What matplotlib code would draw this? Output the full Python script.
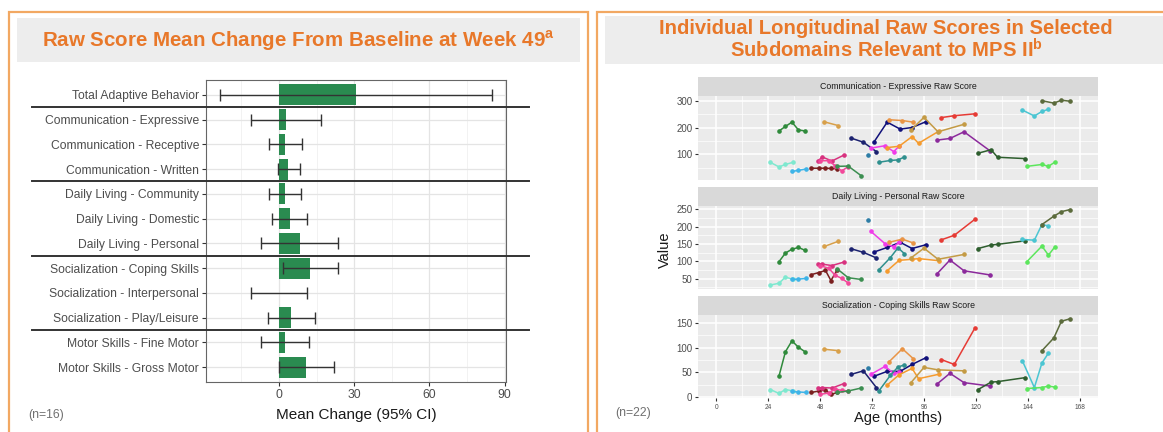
import numpy as np
import matplotlib
matplotlib.use("Agg")
import matplotlib.pyplot as plt
from matplotlib.patches import Rectangle
from matplotlib.ticker import MultipleLocator
from matplotlib.transforms import blended_transform_factory

plt.rcParams['font.family'] = ['Liberation Sans', 'DejaVu Sans']
plt.rcParams['mathtext.fontset'] = 'custom'
plt.rcParams['mathtext.rm'] = 'Liberation Sans'
plt.rcParams['mathtext.bf'] = 'Liberation Sans:bold'

# ---- left panel: raw score mean change at week 49 (n=16)
subdomains = [
    "Total Adaptive Behavior",
    "Communication - Expressive",
    "Communication - Receptive",
    "Communication - Written",
    "Daily Living - Community",
    "Daily Living - Domestic",
    "Daily Living - Personal",
    "Socialization - Coping Skills",
    "Socialization - Interpersonal",
    "Socialization - Play/Leisure",
    "Motor Skills - Fine Motor",
    "Motor Skills - Gross Motor",
]
mean_change = [30.6, 2.7, 2.5, 3.7, 2.4, 4.2, 8.4, 12.4, 0.0, 4.8, 2.4, 10.9]
ci_low = [-23.7, -11.2, -4.0, -0.4, -4.2, -2.8, -7.3, 1.5, -11.2, -4.6, -7.2, 0.0]
ci_high = [85.1, 16.9, 9.1, 8.4, 8.8, 11.2, 23.6, 23.6, 11.3, 14.2, 12.1, 21.8]

# ---- right panel: individual longitudinal raw scores (n=22)
facet_titles = [
    "Communication - Expressive Raw Score",
    "Daily Living - Personal Raw Score",
    "Socialization - Coping Skills Raw Score",
]
age_months = [
    [25, 29, 32, 35.5], [29, 32, 35, 38, 41], [35, 38, 41.5], [44, 47.5, 50.5, 53, 56],
    [50, 56.5], [47, 49, 53.5, 59], [48, 52, 55, 58, 61], [56, 61, 67],
    [62.5, 68, 74], [70], [73, 79, 85, 90.5, 97], [71.5, 78, 82, 84.5],
    [75, 80.5, 84, 87], [80, 86, 91], [79, 84.5, 90.5, 93.5, 102.8], [90, 96, 102.5, 114.5],
    [104, 110, 119.5], [102, 108, 114.5, 126.5], [121, 127, 130, 142.5],
    [141.5, 147, 150.5, 153.5], [143.5, 150.5, 153.5, 156.5], [150.5, 156, 159.5, 163.5],
]
comm_expressive = [
    [70, 53, 62, 70], [187, 204, 220, 191, 187], [36, 40, 45], [48, 48, 48, 47, 46],
    [221, 207], [75, 90, 75, 97], [76, 76, 57, 38, 54], [55, 56, 20],
    [160, 145, 110], [97], [147, 220, 194, 200, 222], [123, 132, 110, 130],
    [70, 77, 79, 90], [229, 226, 220], [125, 130, 166, 141, 186], [191, 238, 184, 212],
    [237, 244, 251], [153, 159, 184, 113], [104, 117, 89, 84],
    [265, 243, 260, 268], [55, 62, 55, 71], [300, 291, 302, 298],
]
dl_personal = [
    [32, 37, 55, 48], [99, 124, 135, 140, 132], [48, 49, 51], [62, 68, 74, 45, 76],
    [143, 158], [92, 92, 88, 98], [88, 80, 60, 51, 38], [78, 53, 48],
    [136, 126, 110], [220], [127, 140, 155, 137, 148], [186, 151, 142, 155],
    [75, 111, 139, 122], [155, 164, 153], [73, 103, 106, 108, 102], [110, 138, 106, 120],
    [162, 175, 221], [64, 104, 73, 61], [137, 147, 149, 159],
    [163, 161, 206, 202], [99, 144, 118, 142], [206, 230, 243, 249],
]
soc_coping = [
    [15, 7, 15, 12], [42, 92, 114, 101, 92], [11, 10, 9], [9, 12, 14, 5, 9],
    [97, 94], [18, 19, 18, 27], [5, 8, 16, 13, 12], [9, 12, 18],
    [46, 53, 19], [58], [42, 52, 52, 66, 80], [46, 62, 48, 50],
    [11, 44, 61, 65], [72, 98, 78], [24, 45, 58, 37, 46], [29, 60, 55, 53],
    [76, 66, 140], [26, 48, 29, 22], [15, 30, 31, 39],
    [73, 19, 69, 89], [17, 19, 22, 20], [94, 120, 154, 159],
]
patient_colors = [
    '#7EE8CF', '#2F8A3B', '#3EB4E8', '#7A1F1F', '#D8A04A', '#D8327F', '#F2489A', '#3B8E50',
    '#1C2270', '#2D7DA6', '#10107A', '#F03CE8', '#2F908E', '#E99445', '#F59B2E', '#C49B45',
    '#E63B35', '#8C2A9C', '#2E5E2E', '#4BC5D2', '#5CE65C', '#5B6B3C',
]

ORANGE = '#E8782A'
FRAME = '#F2A862'
BAR_GREEN = '#2A8B50'

W, H = 1163, 432
fig = plt.figure(figsize=(W / 100, H / 100), dpi=100)


def box(x0, y0, x1, y1):
    # pixel box, origin top-left -> figure fraction [l, b, w, h]
    return [x0 / W, 1 - y1 / H, (x1 - x0) / W, (y1 - y0) / H]


def add_rect(x0, y0, x1, y1, **kw):
    l, b, w, h = box(x0, y0, x1, y1)
    fig.patches.append(Rectangle((l, b), w, h, transform=fig.transFigure, **kw))


def ftext(x, y, s, **kw):
    return fig.text(x / W, 1 - y / H, s, **kw)


# frames and title bands
add_rect(9, 12, 588, 470, fill=False, ec=FRAME, lw=1.6)
add_rect(597, 12, 1180, 470, fill=False, ec=FRAME, lw=1.6)
add_rect(17, 18, 580, 62, fc='#EDEDED', ec='none')
add_rect(605, 16, 1175, 64, fc='#EDEDED', ec='none')

ftext(298, 46.5, r'Raw Score Mean Change From Baseline at Week 49$^{\mathbf{a}}$',
      ha='center', va='baseline', fontsize=14.8, fontweight='bold', color=ORANGE)
ftext(886, 34.5, 'Individual Longitudinal Raw Scores in Selected',
      ha='center', va='baseline', fontsize=14.6, fontweight='bold', color=ORANGE)
ftext(886, 58.0, r'Subdomains Relevant to MPS II$^{\mathbf{b}}$',
      ha='center', va='baseline', fontsize=14.6, fontweight='bold', color=ORANGE)

# ---- left chart
axL = fig.add_axes(box(206, 80, 506, 382))
ypos = np.arange(len(subdomains))
axL.barh(ypos, mean_change, height=0.85, color=BAR_GREEN, zorder=2)
err = [np.subtract(mean_change, ci_low), np.subtract(ci_high, mean_change)]
axL.errorbar(mean_change, ypos, xerr=err, fmt='none', ecolor='#333333',
             elinewidth=1.0, capsize=4.3, capthick=1.0, zorder=3)

groups = [s.split(' - ')[0] for s in subdomains]
trans = blended_transform_factory(fig.transFigure, axL.transData)
for i in range(1, len(groups)):
    if groups[i] != groups[i - 1]:
        axL.plot([32 / W, 529 / W], [i - 0.5, i - 0.5], transform=trans,
                 color='#333333', lw=1.4, clip_on=False, zorder=5)

lo = min(min(ci_low), 0)
hi = max(ci_high)
pad = 0.05 * (hi - lo)
axL.set_xlim(lo - pad, hi + pad)
axL.set_ylim(len(subdomains) - 0.4, -0.6)
axL.set_yticks(ypos)
axL.set_yticklabels(subdomains)
axL.xaxis.set_major_locator(MultipleLocator(30))
axL.xaxis.set_minor_locator(MultipleLocator(15))
axL.grid(which='major', color='#E4E4E4', lw=0.9)
axL.grid(which='minor', axis='x', color='#F0F0F0', lw=0.6)
axL.set_axisbelow(True)
axL.tick_params(which='minor', length=0)
axL.tick_params(which='major', labelsize=8.7, labelcolor='#4D4D4D', color='#333333',
                length=3, width=0.8, pad=2)
for sp in axL.spines.values():
    sp.set_color('#666666')
    sp.set_linewidth(0.8)

ftext(356, 415, 'Mean Change (95% CI)', ha='center', va='center', fontsize=11, color='#1A1A1A')
ftext(28, 415, '(n=16)', ha='left', va='center', fontsize=8.8, color='#707070')

# ---- right chart: three facets with free y scales
facet_values = [comm_expressive, dl_personal, soc_coping]
facet_steps = [100, 50, 50]
facet_rows = [(77, 96.4, 179.5), (186.5, 205.8, 288.8), (296, 315, 398.2)]
x_left, x_right = 698, 1098
xmin, xmax = 0, 168
xpad = 0.05 * (xmax - xmin)

for k, title in enumerate(facet_titles):
    st, pt, pb = facet_rows[k]
    sax = fig.add_axes(box(x_left, st, x_right, pt))
    sax.set_facecolor('#D9D9D9')
    sax.set_xticks([])
    sax.set_yticks([])
    for sp in sax.spines.values():
        sp.set_visible(False)
    sax.text(0.5, 0.5, title, ha='center', va='center', fontsize=6.3,
             color='#1A1A1A', transform=sax.transAxes)

    ax = fig.add_axes(box(x_left, pt, x_right, pb))
    ax.set_facecolor('#EBEBEB')
    for ages, vals, c in zip(age_months, facet_values[k], patient_colors):
        ax.plot(ages, vals, color=c, lw=1.1, marker='o', ms=2.3, mec=c, mfc=c, zorder=3)

    allv = np.concatenate(facet_values[k])
    ypad = 0.05 * (allv.max() - allv.min())
    ax.set_ylim(allv.min() - ypad, allv.max() + ypad)
    ax.set_xlim(xmin - xpad, xmax + xpad)
    ax.xaxis.set_major_locator(MultipleLocator(24))
    ax.xaxis.set_minor_locator(MultipleLocator(12))
    ax.yaxis.set_major_locator(MultipleLocator(facet_steps[k]))
    ax.yaxis.set_minor_locator(MultipleLocator(facet_steps[k] / 2))
    ax.grid(which='major', color='white', lw=1.1)
    ax.grid(which='minor', color='white', lw=0.5)
    ax.set_axisbelow(True)
    for sp in ax.spines.values():
        sp.set_visible(False)
    ax.tick_params(which='minor', length=0)
    ax.tick_params(axis='y', which='major', labelsize=7, labelcolor='#4D4D4D',
                   color='#333333', length=2.5, width=0.8, pad=1.5)
    if k < len(facet_titles) - 1:
        ax.tick_params(axis='x', which='major', length=0, labelbottom=False)
    else:
        ax.tick_params(axis='x', which='major', labelsize=4.7, labelcolor='#4D4D4D',
                       color='#333333', length=2.5, width=0.8, pad=1.5)

ftext(665, 250, 'Value', ha='center', va='center', rotation=90, fontsize=10.5, color='#1A1A1A')
ftext(898, 418, 'Age (months)', ha='center', va='center', fontsize=10.5, color='#1A1A1A')
ftext(615, 413, '(n=22)', ha='left', va='center', fontsize=8.8, color='#707070')

fig.savefig('out.png', dpi=100)
